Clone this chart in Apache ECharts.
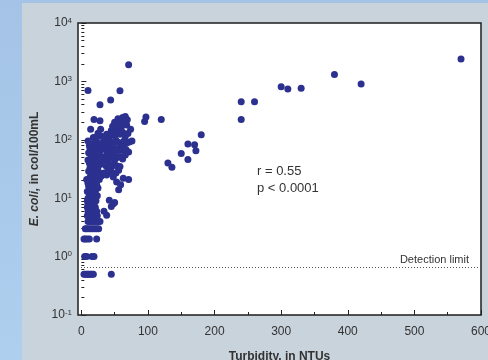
<!DOCTYPE html>
<html>
<head>
<meta charset="utf-8">
<script src="https://cdn.jsdelivr.net/npm/echarts@6/dist/echarts.min.js"></script>
<style>
  html, body { margin: 0; padding: 0; }
  body { width: 488px; height: 360px; background: linear-gradient(180deg, #a4c3e6 0%, #aecfee 100%); overflow: hidden; }
  #chart { position: absolute; left: 0; top: 0; width: 488px; height: 360px; }
</style>
</head>
<body>
<div id="chart"></div>
<script>
// turbidity (NTU), E. coli (col/100mL)
const lowPoints = [
  [4,0.5],[6,0.5],[8,0.5],[10,0.5],[12,0.5],[14,0.5],[16,0.5],[18,0.5],[45,0.5],
  [5,1],[8,1],[16,1],[19,1],
  [4,2],[6,2],[9,2],[12,2],[23,2],
  [6,3],[8,3],[11,3],[14,3],[17,3],[20,3],[23,3],[26,3],
  [10,4],[13,4],[16,4],[19,4],[22,4],[25,4],[28,4],
  [9,5],[12,5],[15,5],[18,5],[21,5],[24,5],[38,5.1],
  [10,6],[13,6],[17,6],[20,6],[23,6],[34,6],
  [9,7],[12,7],[15,7],[18,7],[21,7],[45,7.2],
  [10,8],[14,8],[19,8],[48,8],[50,8.4],
  [9,9],[13,9],[16,9],[22,9],[42,9.2]
];
const midPoints = [
  [10,10],[14,10],[18,11],[12,12],[20,12],[24,11],
  [9,13],[13,14],[17,15],[21,13],[25,15],[56,14],[11,16],
  [10,18],[15,19],[19,20],[23,17],[27,21],[59,17],[53,19],[63,22],[71,21],[8,21],[12,22],
  [14,24],[18,26],[22,25],[26,28],[30,24],[34,27],[38,25],[44,28],[48,23],[11,29],[16,30],[20,30],[40,30],[52,27],[56,30],
  [13,33],[17,35],[21,37],[25,34],[29,38],[33,40],[37,36],[41,39],[45,34],[49,38],[53,36],[58,35],[12,40],[24,32],
  [10,45],[14,48],[18,42],[22,50],[26,44],[30,52],[34,46],[38,55],[42,48],[46,53],[50,45],[54,50],[58,52],[62,47],[66,55],[16,55],[28,48],
  [11,60],[15,65],[19,70],[23,58],[27,62],[31,68],[35,72],[39,60],[43,65],[47,75],[51,62],[55,70],[59,66],[63,73],[67,68],[71,62],[13,72],[25,75],
  [12,80],[16,85],[20,78],[24,90],[28,82],[32,88],[36,95],[40,80],[44,92],[48,85],[52,98],[56,90],[60,84],[64,95],[68,88],[72,92],[76,95],[10,95],[36,78]
];
const highPoints = [
  [18,110],[22,100],[26,120],[30,115],[34,105],[38,125],[42,110],[46,130],[50,118],[54,140],[58,125],[62,135],[66,115],[70,128],[74,152],[14,152],[29,152],[25,130],[21,110],[48,150],[56,155],
  [52,160],[56,175],[60,190],[64,210],[68,180],[50,200],[58,220],[62,240],[66,250],[69,220],[55,230],[19,223],[28,212],[60,165],[45,145],[47,170],
  [10,700],[58,690],[44,480],[28,400],[71,1930]
];
const outlierPoints = [
  [95,205],[97,245],[120,223],[130,40],[136,34],[150,58],[160,85],[160,46],[170,82],[172,65],[180,122],
  [240,448],[260,448],[240,223],[300,811],[310,740],[330,760],[380,1318],[420,900],[570,2415]
];
const detectionLimit = 0.66;
const xLabels = [0, 100, 200, 300, 400, 500, 600];
const xMinorTicks = [50, 150, 250, 350, 450, 550];
const yMinorTicks = [0.2,0.3,0.4,0.5,0.6,0.7,0.8,0.9,2,3,4,5,6,7,8,9,20,30,40,50,60,70,80,90,
  200,300,400,500,600,700,800,900,2000,3000,4000,5000,6000,7000,8000,9000];
const statLines = ['r = 0.55', 'p < 0.0001'];

const allPoints = lowPoints.concat(midPoints, highPoints, outlierPoints);

const chart = echarts.init(document.getElementById('chart'));
const textColor = '#333';
const font = '"Liberation Sans", Arial, sans-serif';

const option = {
  animation: false,
  graphic: [
    { type: 'rect', z: -10, silent: true, shape: { x: 22, y: 3, width: 466, height: 357 }, style: { fill: '#c9d3dc' } },
    { type: 'text', left: 257, top: 163, z: 10, style: { text: statLines.join('\n'), fill: textColor, font: '13px ' + font, lineHeight: 17 } }
  ],
  grid: {
    left: 78, right: 7, top: 23, bottom: 45, outerBoundsMode: 'none', containLabel: false,
    show: true, backgroundColor: '#fff', borderColor: '#1e1e1e', borderWidth: 1.5
  },
  xAxis: [
    {
      type: 'value', min: -5, max: 600,
      name: 'Turbidity, in NTUs', nameLocation: 'middle', nameGap: 36,
      nameTextStyle: { fontFamily: font, fontWeight: 'bold', fontSize: 12, color: textColor },
      axisLine: { show: false },
      splitLine: { show: false },
      axisTick: { inside: true, length: 5, customValues: xLabels, lineStyle: { color: '#222' } },
      axisLabel: { customValues: xLabels, margin: 11, fontSize: 12, color: textColor, fontFamily: font, hideOverlap: false }
    },
    {
      type: 'value', min: -5, max: 600, position: 'bottom',
      axisLine: { show: false }, splitLine: { show: false },
      axisTick: { inside: true, length: 3, customValues: xMinorTicks, lineStyle: { color: '#222' } },
      axisLabel: { show: false }
    }
  ],
  yAxis: [
    {
      type: 'log', logBase: 10, min: 0.1, max: 10000,
      name: '{i|E. coli,} in col/100mL', nameLocation: 'middle', nameGap: 36,
      nameTextStyle: {
        fontFamily: font, fontWeight: 'bold', fontSize: 12, color: textColor,
        rich: { i: { fontStyle: 'italic', fontWeight: 'bold', fontSize: 12, color: textColor, fontFamily: font } }
      },
      axisLine: { show: false },
      splitLine: { show: false },
      axisTick: { inside: true, length: 5, lineStyle: { color: '#222' } },
      axisLabel: {
        margin: 6, fontSize: 12, color: textColor, fontFamily: font,
        formatter: function (v) { return '10{s|' + Math.round(Math.log10(v)) + '}'; },
        rich: { s: { fontSize: 8, verticalAlign: 'top', padding: [0, 0, 5, 0], color: textColor, fontFamily: font } }
      }
    },
    {
      type: 'log', logBase: 10, min: 0.1, max: 10000, position: 'left',
      axisLine: { show: false }, splitLine: { show: false },
      axisTick: { inside: true, length: 3, customValues: yMinorTicks, lineStyle: { color: '#222' } },
      axisLabel: { show: false }
    }
  ],
  series: [
    {
      type: 'scatter',
      data: allPoints,
      symbolSize: 7,
      itemStyle: { color: '#2c3190', opacity: 1 },
      markLine: {
        silent: true, symbol: 'none',
        lineStyle: { type: [1, 2], color: '#555', width: 1 },
        label: { position: 'insideEndTop', formatter: 'Detection limit', fontSize: 11, color: textColor, distance: [12, 2], fontFamily: font },
        data: [{ yAxis: detectionLimit }]
      }
    }
  ]
};
chart.setOption(option);
</script>
</body>
</html>
